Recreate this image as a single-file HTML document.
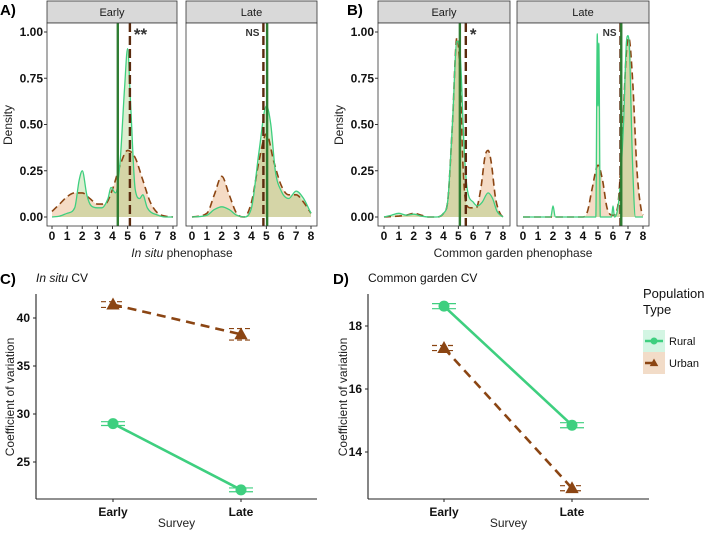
<!DOCTYPE html>
<html><head><meta charset="utf-8"><style>
body{margin:0;background:#fff}
svg{display:block;font-family:"Liberation Sans",sans-serif}
</style></head><body>
<svg id="fig" width="709" height="534" viewBox="0 0 709 534"></svg>
<script>
// ---------- density data (x, density) ----------
const aEarlyRuralX=[0,0.5,1,1.5,1.8,2,2.3,2.6,3,3.3,3.7,3.9,4.2,4.5,4.8,5,5.2,5.5,5.8,6,6.3,7,7.5,8];
const aEarlyRuralY=[0,0.005,0.02,0.05,0.2,0.25,0.12,0.06,0.05,0.05,0.1,0.16,0.13,0.3,0.7,0.91,0.6,0.15,0.1,0.12,0.05,0.01,0,0];
const aEarlyUrbanX=[0,0.5,1,1.5,2,2.5,3,3.5,4,4.5,5,5.5,6,6.5,7,7.5,8];
const aEarlyUrbanY=[0.03,0.07,0.11,0.13,0.13,0.1,0.07,0.07,0.15,0.28,0.36,0.32,0.2,0.08,0.02,0.005,0];
const aLateRuralX=[0,1,1.5,2,2.5,3,3.5,4,4.5,5,5.3,5.6,6,6.5,7,7.5,8];
const aLateRuralY=[0,0.01,0.04,0.055,0.04,0.01,0,0.05,0.35,0.6,0.5,0.25,0.14,0.1,0.14,0.1,0.02];
const aLateUrbanX=[0,1,1.5,2,2.5,3,3.5,4,4.5,5,5.5,6,6.5,7,7.5,8];
const aLateUrbanY=[0,0.02,0.12,0.22,0.12,0.02,0,0.08,0.3,0.45,0.3,0.17,0.12,0.12,0.08,0.02];
const bEarlyRuralX=[0,0.5,1,1.5,2,2.5,3,3.5,4,4.3,4.6,4.9,5.1,5.4,5.6,6,6.3,6.6,7,7.3,7.6,8];
const bEarlyRuralY=[0,0.01,0.02,0.01,0.015,0.005,0,0,0.02,0.1,0.5,0.95,0.9,0.35,0.15,0.08,0.06,0.08,0.13,0.1,0.03,0];
const bEarlyUrbanX=[0,1,1.5,2,2.5,3,3.5,4,4.3,4.6,4.9,5.1,5.3,5.5,5.8,6.2,6.5,6.8,7,7.2,7.5,7.8,8];
const bEarlyUrbanY=[0,0.005,0.01,0.02,0.01,0,0,0.02,0.1,0.5,0.97,0.8,0.3,0.08,0.05,0.05,0.15,0.33,0.36,0.3,0.1,0.02,0];
const bLateRuralX=[0,1.85,2,2.15,4.85,4.95,5,5.05,5.15,5.9,6,6.1,6.4,6.7,6.9,7,7.1,7.3,7.5,8];
const bLateRuralY=[0,0,0.06,0,0,0.99,0.6,0.94,0,0,0.06,0,0.1,0.5,0.95,0.98,0.9,0.3,0,0];
const bLateUrbanX=[0,4,4.3,4.6,5,5.3,5.6,6,6.3,6.6,6.9,7.05,7.3,7.6,7.9,8];
const bLateUrbanY=[0,0,0.03,0.15,0.28,0.2,0.05,0.01,0.05,0.4,0.9,0.97,0.75,0.25,0.03,0.01];
const meanRural=[4.35,5.05,5.1,6.55];
const meanUrban=[5.15,4.8,5.5,6.5];
const sigLabels=["**","NS","*","NS"];
const densTicks=[0,0.25,0.5,0.75,1.0];
const densTickLabels=["0.00","0.25","0.50","0.75","1.00"];
const phenTicks=[0,1,2,3,4,5,6,7,8];
// ---------- CV data ----------
const surveys=["Early","Late"];
const cInsituRural=[29.0,22.1], cInsituUrban=[41.4,38.3];
const cInsituRuralErr=[0.2,0.2], cInsituUrbanErr=[0.3,0.6];
const dGardenRural=[18.63,14.85], dGardenUrban=[17.3,12.85];
const dGardenRuralErr=[0.08,0.08], dGardenUrbanErr=[0.08,0.08];
const cTicks=[25,30,35,40], dTicks=[14,16,18];

const NS="http://www.w3.org/2000/svg";
const svg=document.getElementById('fig');
function el(tag,attrs,parent,text){const e=document.createElementNS(NS,tag);for(const k in attrs)e.setAttribute(k,attrs[k]);if(text!==undefined)e.textContent=text;(parent||svg).appendChild(e);return e;}
const GREEN="#3ecf7f", BROWN="#8b4513";

// monotone cubic (Fritsch-Carlson) to avoid overshoot
function smoothPath(pts){
  const n=pts.length,dx=[],m=[],t=new Array(n);
  for(let i=0;i<n-1;i++){dx[i]=pts[i+1][0]-pts[i][0];m[i]=(pts[i+1][1]-pts[i][1])/dx[i];}
  t[0]=m[0];t[n-1]=m[n-2];
  for(let i=1;i<n-1;i++){t[i]=(m[i-1]*m[i]<=0)?0:(m[i-1]+m[i])/2;}
  for(let i=0;i<n-1;i++){
    if(m[i]===0){t[i]=0;t[i+1]=0;continue;}
    const a=t[i]/m[i],b=t[i+1]/m[i],s=a*a+b*b;
    if(s>9){const k=3/Math.sqrt(s);t[i]=k*a*m[i];t[i+1]=k*b*m[i];}
  }
  let d="M"+pts[0][0].toFixed(1)+","+pts[0][1].toFixed(1);
  for(let i=0;i<n-1;i++){
    const h=dx[i]/3;
    d+=` C${(pts[i][0]+h).toFixed(1)},${(pts[i][1]+t[i]*h).toFixed(1)} ${(pts[i+1][0]-h).toFixed(1)},${(pts[i+1][1]-t[i+1]*h).toFixed(1)} ${pts[i+1][0].toFixed(1)},${pts[i+1][1].toFixed(1)}`;
  }
  return d;
}

function facet(px,pw,x0px,x8px,title,rx,ry,ux,uy,mr,mu,sig,name){
  const top=23,bot=226,y0=217,y1=32;
  const sx=v=>x0px+(x8px-x0px)*v/8, sy=v=>y0+(y1-y0)*v;
  const g=el('g',{});
  
  
  const strip=el('rect',{x:px,y:1,width:pw,height:top-1,fill:'#d9d9d9',stroke:'#333','stroke-width':0.8},g);
  
  el('text',{x:px+pw/2,y:16,'text-anchor':'middle','font-size':11,fill:'#1a1a1a',},g,title);
  el('rect',{x:px,y:top,width:pw,height:bot-top,fill:'#fff'},g);
  const dr=rx.map((x,i)=>[sx(x),sy(ry[i])]), du=ux.map((x,i)=>[sx(x),sy(uy[i])]);
  const pu=smoothPath(du), pr=smoothPath(dr);
  el('path',{d:pu+` L${du[du.length-1][0]},${y0} L${du[0][0]},${y0} Z`,fill:'rgba(236,190,150,0.55)',},g);
  el('path',{d:pr+` L${dr[dr.length-1][0]},${y0} L${dr[0][0]},${y0} Z`,fill:'rgba(140,200,100,0.3)',},g);
  el('path',{d:pu,fill:'none',stroke:BROWN,'stroke-width':1.6,'stroke-dasharray':'7,4',},g);
  el('path',{d:pr,fill:'none',stroke:GREEN,'stroke-width':1.3,},g);
  el('line',{x1:sx(mu),x2:sx(mu),y1:top,y2:bot,stroke:'#5a2a0e','stroke-width':2.4,'stroke-dasharray':'9,4',},g);
  el('line',{x1:sx(mr),x2:sx(mr),y1:top,y2:bot,stroke:'#2e7d32','stroke-width':2.4,},g);
  const lx=sig==="NS"?Math.min(sx(mu),sx(mr))-4:Math.max(sx(mu),sx(mr))+4;
  el('text',{x:lx,y:sig==="NS"?36:40,'text-anchor':sig==="NS"?'end':'start','font-size':sig==="NS"?10:17,'font-weight':'bold',fill:'#333',},g,sig);
  el('rect',{x:px,y:top,width:pw,height:bot-top,fill:'none',stroke:'#333','stroke-width':0.8},g);
  phenTicks.forEach(t=>{
    el('line',{x1:sx(t),x2:sx(t),y1:bot,y2:bot+3,stroke:'#333'},g);
    el('text',{x:sx(t),y:bot+14,'text-anchor':'middle','font-size':12,'font-weight':'bold',fill:'#111',},g,String(t));
  });
  return sy;
}
function yDens(px,labX){
  densTicks.forEach((t,i)=>{const y=217+(32-217)*t;
    el('line',{x1:px-3,x2:px,y1:y,y2:y,stroke:'#333'});
    el('text',{x:labX,y:y+4,'text-anchor':'end','font-size':12,'font-weight':'bold',fill:'#111',},undefined,densTickLabels[i]);
  });
}
// Panel A
el('text',{x:0,y:15,'font-size':15,'font-weight':'bold',},undefined,"A)");
facet(47,130,52,173,"Early",aEarlyRuralX,aEarlyRuralY,aEarlyUrbanX,aEarlyUrbanY,meanRural[0],meanUrban[0],sigLabels[0],'a-early');
facet(186,131,192,311,"Late",aLateRuralX,aLateRuralY,aLateUrbanX,aLateUrbanY,meanRural[1],meanUrban[1],sigLabels[1],'a-late');
yDens(47,43);
el('text',{x:0,y:0,transform:'translate(12,125) rotate(-90)','text-anchor':'middle','font-size':12,fill:'#222',},undefined,"Density");
const ta=el('text',{x:182,y:257,'text-anchor':'middle','font-size':12,fill:'#222',});
el('tspan',{'font-style':'italic'},ta,"In situ");el('tspan',{},ta," phenophase");
// Panel B
el('text',{x:347,y:15,'font-size':15,'font-weight':'bold',},undefined,"B)");
facet(378,132,384,503,"Early",bEarlyRuralX,bEarlyRuralY,bEarlyUrbanX,bEarlyUrbanY,meanRural[2],meanUrban[2],sigLabels[2],'b-early');
facet(517,132,523,643,"Late",bLateRuralX,bLateRuralY,bLateUrbanX,bLateUrbanY,meanRural[3],meanUrban[3],sigLabels[3],'b-late');
yDens(378,374);
el('text',{x:0,y:0,transform:'translate(343,125) rotate(-90)','text-anchor':'middle','font-size':12,fill:'#222',},undefined,"Density");
el('text',{x:513,y:257,'text-anchor':'middle','font-size':12,fill:'#222',},undefined,"Common garden phenophase");

// ---------- CV panels ----------
function triangle(x,y,s){return `M${x},${y-s} L${x+s*0.95},${y+s*0.7} L${x-s*0.95},${y+s*0.7} Z`;}
function cvPanel(ax,right,xE,xL,vRef,yRef,pxPerUnit,ticks,rural,urban,rErr,uErr,name){
  const top=294,bot=499;
  const sy=v=>yRef-(v-vRef)*pxPerUnit;
  const xs=[xE,xL];
  const g=el('g',{});
  
  
  el('line',{x1:ax,x2:ax,y1:top,y2:bot,stroke:'#222','stroke-width':1.1},g);
  el('line',{x1:ax,x2:right,y1:bot,y2:bot,stroke:'#222','stroke-width':1.1},g);
  ticks.forEach(t=>{el('line',{x1:ax-3,x2:ax,y1:sy(t),y2:sy(t),stroke:'#222'},g);
    el('text',{x:ax-6,y:sy(t)+4,'text-anchor':'end','font-size':12,'font-weight':'bold',fill:'#111',},g,String(t));});
  surveys.forEach((s,i)=>{el('line',{x1:xs[i],x2:xs[i],y1:bot,y2:bot+3,stroke:'#222'},g);
    el('text',{x:xs[i],y:bot+17,'text-anchor':'middle','font-size':12,'font-weight':'bold',fill:'#111',},g,s);});
  el('line',{x1:xs[0],y1:sy(urban[0]),x2:xs[1],y2:sy(urban[1]),stroke:BROWN,'stroke-width':2.6,'stroke-dasharray':'9,6',},g);
  el('line',{x1:xs[0],y1:sy(rural[0]),x2:xs[1],y2:sy(rural[1]),stroke:GREEN,'stroke-width':2.6,},g);
  [0,1].forEach(i=>{
    [urban[i]-uErr[i],urban[i]+uErr[i]].forEach(v=>el('line',{x1:xs[i]-12,x2:xs[i]+12,y1:sy(v),y2:sy(v),stroke:BROWN,'stroke-width':1.2,'stroke-dasharray':'5,3'},g));
    [rural[i]-rErr[i],rural[i]+rErr[i]].forEach(v=>el('line',{x1:xs[i]-12,x2:xs[i]+12,y1:sy(v),y2:sy(v),stroke:GREEN,'stroke-width':1.2},g));
    el('path',{d:triangle(xs[i],sy(urban[i]),7),fill:BROWN,},g);
    el('circle',{cx:xs[i],cy:sy(rural[i]),r:5.5,fill:GREEN,},g);
  });
  el('text',{x:(ax+right)/2,y:527,'text-anchor':'middle','font-size':12,fill:'#222',},g,"Survey");
}
el('text',{x:0,y:284,'font-size':15,'font-weight':'bold',},undefined,"C)");
const tc=el('text',{x:36,y:282,'font-size':12,fill:'#111',});
el('tspan',{'font-style':'italic'},tc,"In situ");el('tspan',{},tc," CV");
cvPanel(36,317,113,241,30,414,9.6,cTicks,cInsituRural,cInsituUrban,cInsituRuralErr,cInsituUrbanErr,'c-insitu-cv');
el('text',{x:0,y:0,transform:'translate(14,397) rotate(-90)','text-anchor':'middle','font-size':12,fill:'#222',},undefined,"Coefficient of variation");

el('text',{x:333,y:284,'font-size':15,'font-weight':'bold',},undefined,"D)");
el('text',{x:368,y:282,'font-size':12,fill:'#111',},undefined,"Common garden CV");
cvPanel(368,649,444,572,18,326,31.5,dTicks,dGardenRural,dGardenUrban,dGardenRuralErr,dGardenUrbanErr,'d-garden-cv');
el('text',{x:0,y:0,transform:'translate(347,397) rotate(-90)','text-anchor':'middle','font-size':12,fill:'#222',},undefined,"Coefficient of variation");

// legend
const lg=el('g',{});


el('text',{x:643,y:298,'font-size':13,fill:'#111',},lg,"Population");
el('text',{x:643,y:314,'font-size':13,fill:'#111'},lg,"Type");
el('rect',{x:643,y:330,width:22,height:22,fill:'#d3f5e3',},lg);
el('line',{x1:645,x2:663,y1:341,y2:341,stroke:GREEN,'stroke-width':2.5},lg);
el('circle',{cx:654,cy:341,r:3.5,fill:GREEN},lg);
el('rect',{x:643,y:352,width:22,height:22,fill:'#f2dcc8',},lg);
el('line',{x1:645,x2:654,y1:363,y2:363,stroke:BROWN,'stroke-width':2.5},lg);
el('path',{d:triangle(654,363,4.5),fill:BROWN},lg);
el('text',{x:669,y:345,'font-size':11,fill:'#111',},lg,"Rural");
el('text',{x:669,y:367,'font-size':11,fill:'#111',},lg,"Urban");
</script>
</body></html>
